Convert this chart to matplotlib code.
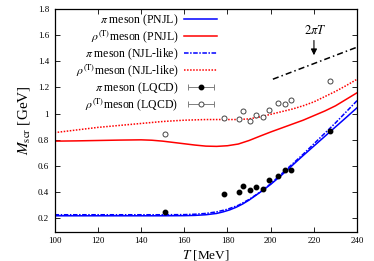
import matplotlib
matplotlib.use("Agg")
import matplotlib.pyplot as plt
from matplotlib.lines import Line2D
from matplotlib.legend_handler import HandlerLine2D, HandlerTuple

plt.rcParams['font.family'] = ['Liberation Serif', 'DejaVu Serif']
plt.rcParams['mathtext.fontset'] = 'stix'

# pi meson (PNJL)
T_pi = [100, 110, 120, 130, 140, 150, 160, 165, 170, 175, 178, 181, 184, 187, 190, 193, 196, 200, 205, 210, 215, 220, 225, 230, 235, 240]
M_pi = [0.22, 0.22, 0.22, 0.22, 0.22, 0.22, 0.221, 0.223, 0.228, 0.238, 0.25, 0.265, 0.285, 0.31, 0.34, 0.375, 0.41, 0.46, 0.53, 0.605, 0.68, 0.753, 0.826, 0.899, 0.972, 1.046]
# pi meson (NJL-like)
T_pi2 = [100, 110, 120, 130, 140, 150, 160, 165, 170, 175, 180, 185, 190, 195, 200, 205, 210, 215, 220, 225, 230, 235, 240]
M_pi2 = [0.228, 0.228, 0.228, 0.228, 0.228, 0.228, 0.229, 0.232, 0.238, 0.25, 0.27, 0.30, 0.345, 0.40, 0.465, 0.54, 0.615, 0.69, 0.77, 0.85, 0.93, 1.015, 1.10]
# rho(T) meson (PNJL)
T_rho = [100, 110, 120, 130, 140, 145, 150, 155, 160, 165, 170, 175, 180, 185, 190, 195, 200, 205, 210, 215, 220, 225, 230, 235, 240]
M_rho = [0.79, 0.792, 0.795, 0.798, 0.80, 0.797, 0.79, 0.78, 0.77, 0.76, 0.752, 0.75, 0.755, 0.768, 0.795, 0.828, 0.86, 0.89, 0.92, 0.95, 0.985, 1.02, 1.06, 1.11, 1.16]
# rho(T) meson (NJL-like)
T_rho2 = [100, 110, 120, 130, 140, 150, 160, 170, 180, 185, 190, 195, 200, 205, 210, 215, 220, 225, 230, 235, 240]
M_rho2 = [0.855, 0.875, 0.895, 0.91, 0.925, 0.94, 0.95, 0.955, 0.955, 0.955, 0.96, 0.975, 0.995, 1.015, 1.035, 1.06, 1.09, 1.13, 1.17, 1.215, 1.263]
# lattice QCD points
T_lat = [151.1, 178.2, 185.3, 187.2, 190.3, 193.4, 196.3, 199.3, 203.3, 206.4, 209.5, 227.4]
M_pi_lat = [0.252, 0.389, 0.40, 0.45, 0.415, 0.44, 0.428, 0.494, 0.527, 0.57, 0.57, 0.868]
M_rho_lat = [0.843, 0.967, 0.96, 1.02, 0.947, 0.988, 0.977, 1.028, 1.084, 1.07, 1.105, 1.25]
err_lat = [0.015] * 12
# 2 pi T line
T_2piT = [201.0, 240.0]
M_2piT = [1.263, 1.508]

fig = plt.figure(figsize=(3.74, 2.61), dpi=100)
ax = fig.add_axes([0.146, 0.113, 0.809, 0.853])

LW = 1.1
ax.plot(T_pi, M_pi, color='#0000ff', lw=LW)
ax.plot(T_rho, M_rho, color='#ff0000', lw=LW)
ax.plot(T_pi2, M_pi2, color='#0000ff', lw=LW, linestyle=(0, (3, 1, 1, 1)))
ax.plot(T_rho2, M_rho2, color='#ff0000', lw=LW, linestyle=(0, (1, 1)))
ax.errorbar(T_lat, M_pi_lat, yerr=err_lat, fmt='o', color='black', ms=3.2,
            ecolor='gray', elinewidth=0.6, capsize=0)
ax.errorbar(T_lat, M_rho_lat, yerr=err_lat, fmt='o', mfc='white', mec='#444444',
            mew=0.7, ms=3.6, ecolor='#444444', elinewidth=0.6, capsize=0)
ax.plot(T_2piT, M_2piT, color='black', lw=1.1, linestyle=(0, (4, 2, 1, 2)))

ax.annotate('', xy=(220, 1.425), xytext=(220, 1.58),
            arrowprops=dict(arrowstyle='-|>', color='black', lw=0.8, mutation_scale=9))
ax.text(220.5, 1.585, r'$2\pi T$', ha='center', va='bottom', fontsize=9)

ax.set_xlim(100, 240)
ax.set_ylim(0.1, 1.8)
ax.set_xticks([100, 120, 140, 160, 180, 200, 220, 240])
ax.set_yticks([0.2, 0.4, 0.6, 0.8, 1.0, 1.2, 1.4, 1.6, 1.8])
ax.set_yticklabels(['0.2', '0.4', '0.6', '0.8', '1', '1.2', '1.4', '1.6', '1.8'])
ax.tick_params(direction='in', top=True, right=True, labelsize=6.5, length=3.5, width=0.6, pad=4)
for s in ax.spines.values():
    s.set_linewidth(0.9)
ax.set_xlabel(r'$T$ [MeV]', fontsize=9.5, labelpad=2)
ax.set_ylabel(r'$M_{\rm scr}$ [GeV]', fontsize=11, labelpad=4)

# legend handles
h1 = Line2D([], [], color='#0000ff', lw=LW)
h2 = Line2D([], [], color='#ff0000', lw=LW)
h3 = Line2D([], [], color='#0000ff', lw=LW, linestyle=(0, (3, 1, 1, 1)))
h4 = Line2D([], [], color='#ff0000', lw=LW, linestyle=(0, (1, 1)))
cap5 = Line2D([], [], color='gray', lw=0.7, marker='|', ms=4, mew=0.7)
m5 = Line2D([], [], color='black', marker='o', ms=3.2, lw=0)
cap6 = Line2D([], [], color='gray', lw=0.7, marker='|', ms=4, mew=0.7)
m6 = Line2D([], [], marker='o', mfc='white', mec='#444444', mew=0.7, ms=3.6, lw=0)
labels = [r'$\pi$ meson (PNJL)', r'$\rho^{\rm (T)}$meson (PNJL)',
          r'$\pi$ meson (NJL-like)', r'$\rho^{\rm (T)}$meson (NJL-like)',
          r'$\pi$ meson (LQCD)', r'$\rho^{\rm (T)}$meson (LQCD)']
hm = {cap5: HandlerLine2D(numpoints=2), cap6: HandlerLine2D(numpoints=2),
      m5: HandlerLine2D(numpoints=1), m6: HandlerLine2D(numpoints=1),
      tuple: HandlerTuple(ndivide=1, pad=0)}
leg = ax.legend([h1, h2, h3, h4, (cap5, m5), (cap6, m6)], labels, handler_map=hm,
                loc='upper right', bbox_to_anchor=(0.557, 1.012), frameon=False,
                markerfirst=False, fontsize=8.5, handlelength=2.8, handletextpad=0.5,
                labelspacing=0.08, borderaxespad=0.1)
for t in leg.get_texts():
    t.set_ha('right')

fig.savefig('out.png', dpi=100)
